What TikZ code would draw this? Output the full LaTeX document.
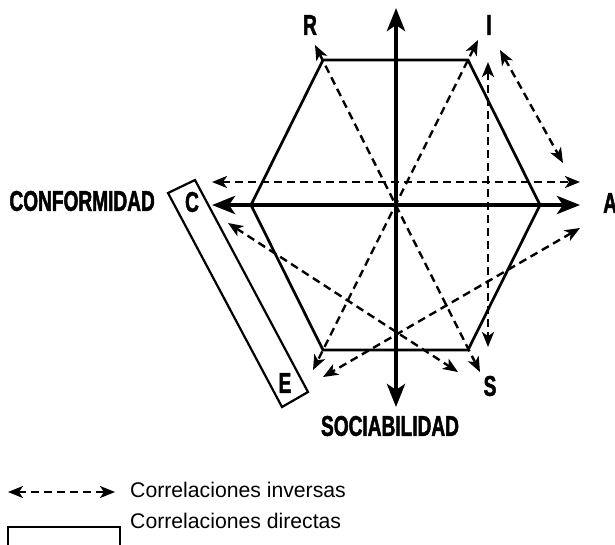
\documentclass[tikz,border=0pt]{standalone}
\usepackage{fontspec}
\setmainfont{Liberation Sans}
\newfontfamily\condb[FakeStretch=0.67,FakeBold=1.6]{Liberation Sans Bold}
\usetikzlibrary{arrows.meta}
\begin{document}
\begin{tikzpicture}[x=1pt,y=-1pt,
  hexline/.style={line width=2.7pt,line join=miter},
  axis/.style={line width=4.8pt,{Stealth[length=23pt,width=18pt,inset=6pt]}-{Stealth[length=23pt,width=18pt,inset=6pt]}},
  inv/.style={line width=2.4pt,dash pattern=on 8pt off 5pt,{Stealth[length=15pt,width=12pt,inset=4pt]}-{Stealth[length=15pt,width=12pt,inset=4pt]}},
  boxline/.style={line width=2.2pt},
  lbl/.style={font=\condb\fontsize{28.5}{28.5}\selectfont,inner sep=0pt},
  leg/.style={font=\fontsize{21.2}{23}\selectfont,inner sep=0pt,anchor=base west}]
\useasboundingbox (0,0) rectangle (615,544);
% hexagon vertices
\coordinate (R) at (323,60);
\coordinate (I) at (468,60);
\coordinate (A) at (540,205);
\coordinate (S) at (468,350);
\coordinate (E) at (323,350);
\coordinate (C) at (251,205);
\draw[hexline] (R)--(I)--(A)--(S)--(E)--(C)--cycle;
% axes
\coordinate (up) at (396,8);
\coordinate (down) at (396,407);
\coordinate (lt) at (212,205);
\coordinate (rt) at (580,205);
\draw[axis] (down)--(up);
\draw[axis] (lt)--(rt);
% inverse correlations
\coordinate (h1) at (212,182); \coordinate (h2) at (580,182);
\coordinate (rs1) at (315,45); \coordinate (rs2) at (480,372);
\coordinate (ie1) at (478,40); \coordinate (ie2) at (313,370);
\coordinate (v1) at (488,62); \coordinate (v2) at (488,347);
\coordinate (ia1) at (500,50); \coordinate (ia2) at (563,163);
\coordinate (cs1) at (228,223); \coordinate (cs2) at (458,372);
\coordinate (ae1) at (580,228); \coordinate (ae2) at (323,377);
\draw[inv] (h1)--(h2);
\draw[inv] (rs1)--(rs2);
\draw[inv] (ie1)--(ie2);
\draw[inv] (v1)--(v2);
\draw[inv] (ia1)--(ia2);
\draw[inv] (cs1)--(cs2);
\draw[inv] (ae1)--(ae2);
% direct correlation box
\coordinate (b1) at (168,193); \coordinate (b2) at (195,180);
\coordinate (b3) at (308,392); \coordinate (b4) at (282,407);
\draw[boxline] (b1)--(b2)--(b3)--(b4)--cycle;
% labels
\node[lbl] (lR) at (310,25) {R};
\node[lbl] (lI) at (489,25) {I};
\node[lbl,anchor=west] (lA) at (603,203) {A};
\node[lbl] (lC) at (192,202) {C};
\node[lbl] (lE) at (285,383) {E};
\node[lbl] (lS) at (490,386) {S};
\node[lbl,anchor=east] (lconf) at (155,201) {CONFORMIDAD};
\node[lbl] (lsoc) at (390,426) {SOCIABILIDAD};
% legend
\coordinate (g1) at (8,492); \coordinate (g2) at (115,492);
\draw[inv] (g1)--(g2);
\node[leg] (tinv) at (130,497) {Correlaciones inversas};
\coordinate (k1) at (8,550); \coordinate (k2) at (8,527);
\coordinate (k3) at (120,527); \coordinate (k4) at (120,550);
\draw[boxline] (k1)--(k2)--(k3)--(k4);
\node[leg] (tdir) at (130,528) {Correlaciones directas};
\end{tikzpicture}
\end{document}
